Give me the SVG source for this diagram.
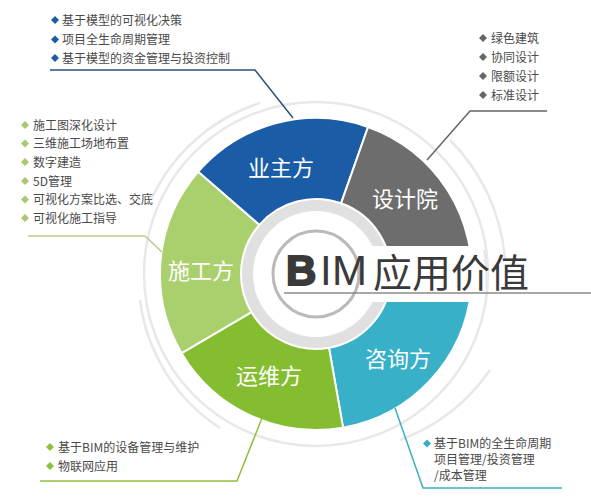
<svg xmlns="http://www.w3.org/2000/svg" xmlns:xlink="http://www.w3.org/1999/xlink" width="591" height="500" viewBox="0 0 591 500">
<style>
.lst{font-family:"Noto Sans CJK SC","Noto Sans",sans-serif;font-size:12px;fill:#4a4a4a}
.seg{stroke:#fff;stroke-width:2}
.lbl{font-family:"Noto Sans CJK SC",sans-serif;font-size:22px;fill:#fff;text-anchor:middle}
.deco{fill:none;stroke:#e8e8e8;stroke-width:2.5}
.con{fill:none;stroke-width:1.5}
</style>
<defs>
<path id="dia" d="M0,-4L4,0L0,4L-4,0Z"/>
</defs>
<rect width="591" height="500" fill="#fff"/>
<g id="decor">
<circle cx="316" cy="274" r="172" class="deco"/>
<path class="deco" d="M151,200 A180,180 0 0 1 260,103" stroke="#ececec"/>
<path class="deco" d="M140,300 A180,180 0 0 0 220,428" stroke="#ececec"/>
<path class="deco" d="M400,440 A190,190 0 0 0 490,370" stroke="#ececec"/>
<path class="deco" d="M450,140 A190,190 0 0 1 505,260" stroke="#ececec"/>
</g>
<g id="n-zixun"><path class="seg" fill="#37b0c8" d="M471.15,290.31 A156,156 0 0 1 343.09,427.63 L329.02,347.86 A75,75 0 0 0 390.59,281.84 Z"/><text class="lbl" x="398" y="367">咨询方</text></g>
<g id="n-yunwei"><path class="seg" fill="#85bd30" d="M343.09,427.63 A156,156 0 0 1 181.59,353.18 L251.38,312.07 A75,75 0 0 0 329.02,347.86 Z"/><text class="lbl" x="269" y="384">运维方</text></g>
<g id="n-shigong"><path class="seg" fill="#a9d06d" d="M181.59,353.18 A156,156 0 0 1 198.27,171.65 L259.40,224.80 A75,75 0 0 0 251.38,312.07 Z"/><text class="lbl" x="201" y="279">施工方</text></g>
<g id="n-yezhu"><path class="seg" fill="#1b5ca7" d="M198.27,171.65 A156,156 0 0 1 368.07,126.95 L341.04,203.30 A75,75 0 0 0 259.40,224.80 Z"/><text class="lbl" x="281" y="176">业主方</text></g>
<g id="n-sheji"><path class="seg" fill="#6e6d6d" d="M368.07,126.95 A156,156 0 0 1 471.15,290.31 L390.59,281.84 A75,75 0 0 0 341.04,203.30 Z"/><text class="lbl" x="405" y="207">设计院</text></g>
<g id="center">
<circle cx="316" cy="274" r="74" fill="#e0e0e0"/>
<circle cx="316" cy="274" r="63" fill="#fff"/>
<circle cx="316" cy="274" r="43" fill="#fff" stroke="#b9b9b9" stroke-width="3"/>
<rect x="362" y="246" width="118" height="56" fill="#fff"/>
<path d="M484,250 A172,172 0 0 1 486,298" fill="none" stroke="#e8e8e8" stroke-width="2.5"/>
<text x="286" y="285" font-family="Liberation Sans,sans-serif" font-size="42" fill="#3a3a3a"><tspan font-weight="bold" stroke="#3a3a3a" stroke-width="2">B</tspan><tspan x="320" font-weight="normal">I</tspan><tspan x="332" font-weight="normal">M</tspan><tspan x="373" y="287" font-family="Noto Sans CJK SC,sans-serif" font-size="39">应用价值</tspan></text>
<line x1="284" y1="293" x2="591" y2="293" stroke="#8a8a8a" stroke-width="1.5"/>
</g>
<g id="connectors">
<polyline class="con" stroke="#2b5279" points="50,70 255,70 293,118"/>
<polyline class="con" stroke="#666" stroke-width="1.2" points="547,111 470,111 427,160"/>
<polyline class="con" stroke="#b3cf86" points="28,236 145,236 162,252"/>
<polyline class="con" stroke="#8dc03f" points="40,481 237,481 262,418"/>
<polyline class="con" stroke="#3aaec4" points="395,408 423,488 562,488"/>
</g>
<g id="list-yezhu" fill="#1b5ca7">
<use href="#dia" x="55" y="20"/><use href="#dia" x="55" y="39.5"/><use href="#dia" x="55" y="58"/>
<text class="lst" x="62" y="24.5">基于模型的可视化决策</text>
<text class="lst" x="62" y="44">项目全生命周期管理</text>
<text class="lst" x="62" y="62.5">基于模型的资金管理与投资控制</text>
</g>
<g id="list-sheji" fill="#666">
<use href="#dia" x="483" y="38"/><use href="#dia" x="483" y="57"/><use href="#dia" x="483" y="76"/><use href="#dia" x="483" y="95"/>
<text class="lst" x="491" y="42.5">绿色建筑</text>
<text class="lst" x="491" y="61.5">协同设计</text>
<text class="lst" x="491" y="80.5">限额设计</text>
<text class="lst" x="491" y="99.5">标准设计</text>
</g>
<g id="list-shigong" fill="#a9c870">
<use href="#dia" x="25" y="125"/><use href="#dia" x="25" y="143.5"/><use href="#dia" x="25" y="162"/><use href="#dia" x="25" y="181"/><use href="#dia" x="25" y="199.5"/><use href="#dia" x="25" y="218"/>
<text class="lst" x="33" y="129.5">施工图深化设计</text>
<text class="lst" x="33" y="148">三维施工场地布置</text>
<text class="lst" x="33" y="166.5">数字建造</text>
<text class="lst" x="33" y="185.5">5D管理</text>
<text class="lst" x="33" y="204">可视化方案比选、交底</text>
<text class="lst" x="33" y="222.5">可视化施工指导</text>
</g>
<g id="list-yunwei" fill="#8dc03f">
<use href="#dia" x="50" y="447"/><use href="#dia" x="50" y="466"/>
<text class="lst" x="58" y="451.5">基于BIM的设备管理与维护</text>
<text class="lst" x="58" y="470.5">物联网应用</text>
</g>
<g id="list-zixun" fill="#3aaec4">
<use href="#dia" x="427" y="443.5"/>
<text class="lst" x="434" y="447.5" font-size="11">基于BIM的全生命周期</text>
<text class="lst" x="434" y="463.5" font-size="11">项目管理/投资管理</text>
<text class="lst" x="434" y="479.5" font-size="11">/成本管理</text>
</g>
</svg>
